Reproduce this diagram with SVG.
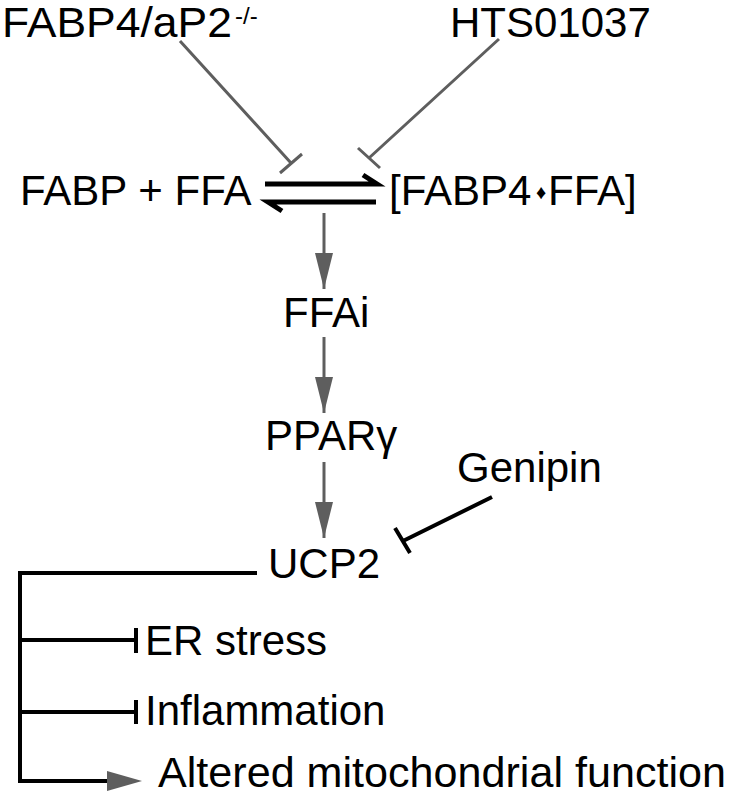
<svg xmlns="http://www.w3.org/2000/svg" width="733" height="795" viewBox="0 0 733 795">
<style>
text{font-family:"Liberation Sans",Arial,sans-serif;font-size:42px;fill:#000}
.sup{font-size:24px}
.dia{font-size:20px}
.g{stroke:#5e5e5e;stroke-width:3;fill:none}
.k{stroke:#000;stroke-width:4;fill:none}
.eq{stroke:#000;stroke-width:5;fill:none}
</style>
<defs>
<marker id="ah" markerUnits="userSpaceOnUse" markerWidth="38" markerHeight="20" refX="36" refY="10" orient="auto">
<path d="M0,1 L36,10 L0,19 Z" fill="#5e5e5e"/>
</marker>
</defs>
<rect width="733" height="795" fill="#fff"/>
<g id="fabp4ko"><text x="2" y="37" textLength="230" lengthAdjust="spacingAndGlyphs">FABP4/aP2</text><text class="sup" x="235" y="24">-/-</text></g>
<g id="hts"><text x="450" y="37">HTS01037</text></g>
<g id="fabpffa"><text x="20" y="205">FABP + FFA</text></g>
<g id="complex"><text x="389" y="205">[FABP4</text><text class="dia" x="541" y="199" text-anchor="middle">♦</text><text x="548" y="205">FFA]</text></g>
<g id="ffai"><text x="283" y="327">FFAi</text></g>
<g id="pparg"><text x="265" y="450">PPARγ</text></g>
<g id="genipin"><text x="457" y="482">Genipin</text></g>
<g id="ucp2"><text x="268" y="578">UCP2</text></g>
<g id="er"><text x="145" y="655">ER stress</text></g>
<g id="infl"><text x="145" y="725">Inflammation</text></g>
<g id="mito"><text x="158" y="787" textLength="568" lengthAdjust="spacingAndGlyphs">Altered mitochondrial function</text></g>
<g id="connectors">
<path class="g" d="M180,41 L291,163 M280,173 L302,154"/>
<path class="g" d="M499,39 L369,158 M358,148 L380,168"/>
<path class="eq" d="M265,184 L377,184 L363,175"/>
<path class="eq" d="M376,202 L268,202 L282,211"/>
<path class="g" d="M324,213 L324,289" marker-end="url(#ah)"/>
<path class="g" d="M324,337 L324,413" marker-end="url(#ah)"/>
<path class="g" d="M324,462 L324,538" marker-end="url(#ah)"/>
<path class="k" d="M492,497 L403,541 M395,528 L410,553"/>
<path class="k" d="M257,573 L20,573 L20,781 L110,781"/>
<path class="k" d="M20,640 L136,640 M136,628 L136,653"/>
<path class="k" d="M20,712 L136,712 M136,700 L136,724"/>
<path d="M107,771 L142,781 L107,791 Z" fill="#5e5e5e"/>
</g>
</svg>
